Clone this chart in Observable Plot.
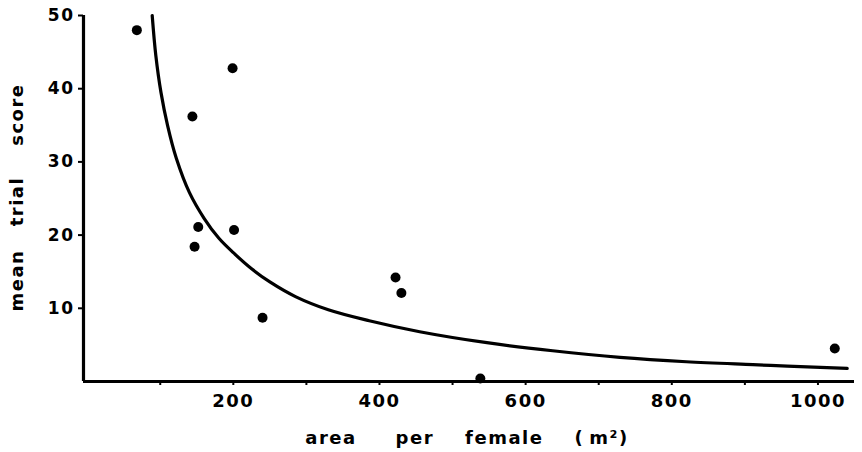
<!DOCTYPE html>
<html>
<head>
<meta charset="utf-8">
<script src="https://cdn.jsdelivr.net/npm/d3@7"></script>
<script src="https://cdn.jsdelivr.net/npm/@observablehq/plot@0.6"></script>
<style>
  html, body { margin: 0; padding: 0; background: #fff; }
  svg text { letter-spacing: 1.5px; }
</style>
</head>
<body>
<div id="chart"></div>
<script>
// Observed points
const areaPerFemale = [68, 144, 199, 152, 147, 201, 240, 422, 430, 538, 1023];
const meanTrialScore = [48.0, 36.2, 42.8, 21.1, 18.4, 20.7, 8.7, 14.2, 12.1, 0.4, 4.5];

// Fitted curve
const curveArea  = [89, 94, 101, 110, 122, 140, 160, 180, 200, 225, 250, 285, 330, 386, 455, 547, 637, 729, 820, 911, 958, 1040];
const curveScore = [50, 44.5, 39.5, 35, 30.5, 25.8, 22.3, 19.6, 17.6, 15.4, 13.6, 11.6, 9.8, 8.3, 6.8, 5.3, 4.2, 3.3, 2.7, 2.3, 2.1, 1.8];

// Ticks
const xTicks = [100, 200, 300, 400, 500, 600, 700, 800, 900, 1000];
const xTickLabels = ["", "200", "", "400", "", "600", "", "800", "", "1000"];
const yTicks = [10, 20, 30, 40, 50];
const yTickLabels = ["10", "20", "30", "40", "50"];

const xTitle = "area\u00A0\u00A0\u00A0\u00A0\u00A0per\u00A0\u00A0\u00A0\u00A0female\u00A0\u00A0\u00A0\u00A0(\u2009m\u00B2)";
const yTitle = "mean\u00A0\u00A0\u00A0trial\u00A0\u00A0\u00A0\u00A0score";

const points = areaPerFemale.map((x, i) => ({x, y: meanTrialScore[i]}));
const curve = curveArea.map((x, i) => ({x, y: curveScore[i]}));

const chart = Plot.plot({
  width: 862,
  height: 452,
  marginLeft: 83,
  marginRight: 8,
  marginTop: 15,
  marginBottom: 71,
  x: {domain: [-5, 1050]},
  y: {domain: [0, 50]},
  style: {fontFamily: "DejaVu Sans", background: "white", color: "black"},
  marks: [
    Plot.axisX({
      ticks: xTicks,
      tickSize: 4,
      tickPadding: 9,
      strokeWidth: 2,
      tickFormat: d => xTickLabels[xTicks.indexOf(d)],
      fontSize: 18,
      fontWeight: "bold",
      label: null
    }),
    Plot.axisY({
      ticks: yTicks,
      tickSize: 5,
      tickPadding: 4,
      strokeWidth: 2,
      tickFormat: d => yTickLabels[yTicks.indexOf(d)],
      fontSize: 17,
      fontWeight: "bold",
      label: null
    }),
    Plot.ruleY([0], {strokeWidth: 3.2}),
    Plot.ruleX([-5], {strokeWidth: 3.2}),
    Plot.line(curve, {x: "x", y: "y", curve: "catmull-rom", strokeWidth: 3.2}),
    Plot.dot(points, {x: "x", y: "y", r: 5, fill: "black", stroke: "none"}),
    Plot.text([xTitle], {
      frameAnchor: "bottom", textAnchor: "middle", lineAnchor: "middle",
      dx: -2, dy: 57,
      fontSize: 18, fontWeight: "bold"
    }),
    Plot.text([yTitle], {
      frameAnchor: "left", textAnchor: "middle", lineAnchor: "middle",
      rotate: -90, dx: -66, dy: -1,
      fontSize: 18, fontWeight: "bold"
    })
  ]
});

document.getElementById("chart").appendChild(chart);
</script>
</body>
</html>
